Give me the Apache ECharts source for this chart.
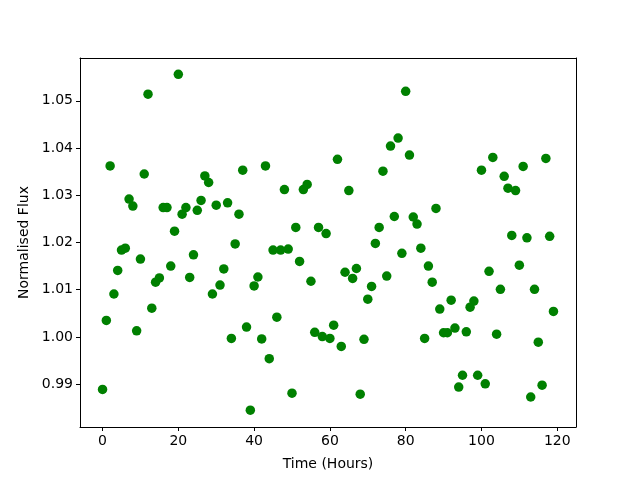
<!DOCTYPE html>
<html lang="en">

<head>
    <meta charset="UTF-8">
    <title>Normalised Flux</title>
    <script src="https://cdn.jsdelivr.net/npm/echarts@6/dist/echarts.min.js"></script>
    <style>
        html, body {
            margin: 0;
            padding: 0;
            background-color: #ffffff;
        }

        #chart {
            width: 640px;
            height: 480px;
        }
    </style>
</head>

<body>
    <div id="chart"></div>

    <script>
        // Hours 0..119, one flux reading per hour
        var hours = [];
        for (var h = 0; h < 120; h++) hours.push(h);

        var flux = [
            0.9889, 1.0035, 1.0362, 1.0091, 1.0141, 1.0184, 1.0188, 1.0292, 1.0277, 1.0013,
            1.0165, 1.0345, 1.0514, 1.0061, 1.0116, 1.0125, 1.0274, 1.0274, 1.0150, 1.0224,
            1.0556, 1.0260, 1.0274, 1.0126, 1.0174, 1.0268, 1.0289, 1.0341, 1.0327, 1.0091,
            1.0279, 1.0110, 1.0144, 1.0284, 0.9997, 1.0197, 1.0260, 1.0353, 1.0021, 0.9845,
            1.0108, 1.0127, 0.9996, 1.0362, 0.9954, 1.0184, 1.0042, 1.0184, 1.0312, 1.0186,
            0.9881, 1.0232, 1.0160, 1.0312, 1.0323, 1.0118, 1.0010, 1.0232, 1.0001, 1.0219,
            0.9997, 1.0025, 1.0376, 0.9980, 1.0137, 1.0310, 1.0124, 1.0145, 0.9879, 0.9995,
            1.0080, 1.0107, 1.0198, 1.0232, 1.0351, 1.0129, 1.0404, 1.0255, 1.0421, 1.0177,
            1.0520, 1.0385, 1.0254, 1.0239, 1.0188, 0.9997, 1.0150, 1.0116, 1.0272, 1.0059,
            1.0009, 1.0009, 1.0078, 1.0019, 0.9894, 0.9919, 1.0011, 1.0063, 1.0076, 0.9919,
            1.0353, 0.9901, 1.0139, 1.0380, 1.0006, 1.0101, 1.0340, 1.0315, 1.0215, 1.0310,
            1.0152, 1.0361, 1.0210, 0.9873, 1.0101, 0.9989, 0.9898, 1.0378, 1.0213, 1.0054
        ];

        var xTicks = [0, 20, 40, 60, 80, 100, 120];
        var yTicks = [0.99, 1.00, 1.01, 1.02, 1.03, 1.04, 1.05];

        var points = hours.map(function (h, i) { return [h, flux[i]]; });

        var font = 'DejaVu Sans';
        var xRange = { min: -5.95, max: 124.95 };
        var yRange = { min: 0.98095, max: 1.05905 };

        // plain axis used only to draw the top / right frame lines
        function frameAxis(pos, range) {
            return {
                type: 'value', position: pos, min: range.min, max: range.max,
                axisLine: { show: true, onZero: false, lineStyle: { color: '#000', width: 1 } },
                axisTick: { show: false }, axisLabel: { show: false }, splitLine: { show: false }
            };
        }

        var chart = echarts.init(document.getElementById('chart'), null, { renderer: 'canvas' });

        chart.setOption({
            animation: false,
            backgroundColor: '#ffffff',
            grid: {
                left: 80,
                right: 64,
                top: 58,
                bottom: 53
            },
            xAxis: [{
                type: 'value',
                position: 'bottom',
                min: xRange.min,
                max: xRange.max,
                name: 'Time (Hours)',
                nameLocation: 'middle',
                nameGap: 30,
                nameTextStyle: { color: '#000', fontFamily: font, fontSize: 14 },
                splitLine: { show: false },
                axisLine: { show: true, onZero: false, lineStyle: { color: '#000', width: 1 } },
                axisTick: { show: true, length: 4, lineStyle: { color: '#000' }, customValues: xTicks },
                axisLabel: { color: '#000', fontFamily: font, fontSize: 14, margin: 7, customValues: xTicks }
            }, frameAxis('top', xRange)],
            yAxis: [{
                type: 'value',
                position: 'left',
                min: yRange.min,
                max: yRange.max,
                name: 'Normalised Flux',
                nameLocation: 'middle',
                nameGap: 45,
                nameTextStyle: { color: '#000', fontFamily: font, fontSize: 14 },
                splitLine: { show: false },
                axisLine: { show: true, onZero: false, lineStyle: { color: '#000', width: 1 } },
                axisTick: { show: true, length: 4, lineStyle: { color: '#000' }, customValues: yTicks },
                axisLabel: {
                    color: '#000', fontFamily: font, fontSize: 14, margin: 7, customValues: yTicks,
                    formatter: function (v) { return v.toFixed(2); }
                }
            }, frameAxis('right', yRange)],
            series: [{
                type: 'scatter',
                xAxisIndex: 0,
                yAxisIndex: 0,
                data: points,
                symbol: 'circle',
                symbolSize: 9.5,
                itemStyle: { color: '#008000', opacity: 1 }
            }]
        });
    </script>
</body>

</html>
